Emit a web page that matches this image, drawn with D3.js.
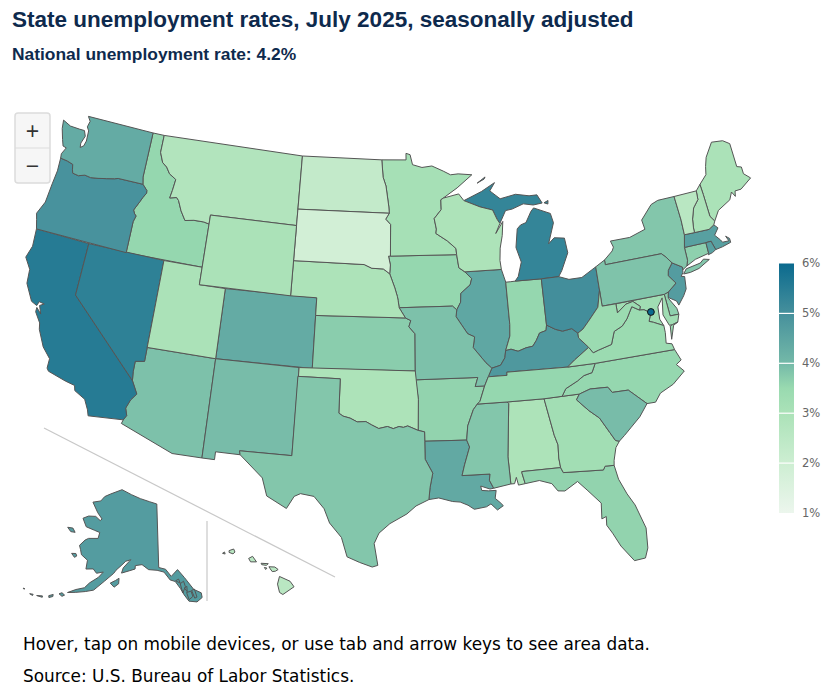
<!DOCTYPE html>
<html>
<head>
<meta charset="utf-8">
<script src="https://cdnjs.cloudflare.com/ajax/libs/d3/7.8.5/d3.min.js"></script>
<style>
  body { margin: 0; background: #fff; }
  svg { display: block; }
</style>
</head>
<body>
<div id="chart"></div>
<script>
const chartTitle = 'State unemployment rates, July 2025, seasonally adjusted';
const chartSubtitle = 'National unemployment rate: 4.2%';
const footNotes = ['Hover, tap on mobile devices, or use tab and arrow keys to see area data.', 'Source: U.S. Bureau of Labor Statistics.'];

const stateCodes = ['AK','AL','AR','AZ','CA','CO','CT','DE','FL','GA','HI','IA','ID','IL','IN','KS','KY','LA','MA','MD','ME','MI','MN','MO','MS','MT','NC','ND','NE','NH','NJ','NM','NV','NY','OH','OK','OR','PA','RI','SC','SD','TN','TX','UT','VA','VT','WA','WI','WV','WY'];
const stateRates = [4.7,2.95,3.6,3.88,5.55,4.35,3.65,3.65,3.6,3.25,2.6,3.55,3.55,4.45,3.55,3.7,4.8,4.4,4.6,3.3,3.0,5.3,3.15,3.88,3.8,2.8,3.55,2.3,2.95,3.0,4.7,3.95,5.4,3.8,5.05,2.95,4.95,3.85,4.6,3.95,1.85,3.55,3.8,3.0,3.45,2.6,4.35,2.95,3.45,3.0];
const dcRate = 6.0;
const dcLonLat = [-77.03, 38.9];

const legendValues = [1, 2, 3, 4, 5, 6];
const colorStops = [1, 2, 3, 3.5, 4, 5, 6];
const colorRange = ['#ecf6ed', '#cdeed2', '#abe2b8', '#99dab0', '#74b9a8', '#46909c', '#0b6a8e'];

// outlines are hand-read lon/lat, written as "degrees west, degrees north"
const pts = (s) => s.trim().split(/\s*,\s*/).map((p) => {
  const [w, n] = p.split(/\s+/).map(Number);
  return [-w, n];
});
const rev = (s) => pts(s).reverse();
const ring = (...parts) => parts.flatMap((p) => (typeof p === 'string' ? pts(p) : p));

// shared borders
const columbia = '124 46.25, 123.4 46.2, 122.9 46.1, 122.8 45.8, 122.7 45.62, 122.2 45.57, 121.7 45.7, 121.2 45.65, 120.6 45.72, 119.9 45.83, 119.3 45.93, 119 46, 116.92 46';
const snake = '116.92 46, 116.5 45.7, 116.47 45.55, 116.7 45.25, 116.85 45, 117.2 44.45, 117.05 44.25, 116.9 44.15, 117.03 43.8, 117.03 42';
const bitterroot = '116.05 49, 116.05 48, 115.7 47.45, 115.3 47.25, 114.95 46.9, 114.35 46.65, 114.45 46, 114.55 45.55, 114 45.65, 113.8 45.5, 113.45 44.95, 113 44.45, 112.3 44.55, 111.5 44.55, 111.05 44.48';
const coloradoRiver = '114.72 32.72, 114.55 33, 114.72 33.4, 114.5 33.9, 114.15 34.3, 114.63 35';
const redRiverND = '97.23 49, 97.1 48, 96.85 47.5, 96.6 46.3, 96.56 45.94';
const sdMn = '96.56 45.94, 96.85 45.6, 96.45 45.3, 96.45 43.5';
const bigSioux = '96.45 43.5, 96.6 43.5, 96.45 43, 96.5 42.5';
const niobrara = '96.5 42.5, 97 42.77, 97.9 42.8, 98.5 43';
const moNe = '96.5 42.5, 96.1 41.7, 95.9 41.2, 95.85 41, 95.77 40.58';
const neMoKs = '95.77 40.58, 95.3 40';
const ksMo = '95.3 40, 94.9 39.85, 95.05 39.5, 94.6 39.1, 94.62 37';
const redRiver = '94.48 33.64, 95.2 33.9, 95.5 33.82, 95.8 33.87, 96.2 33.75, 96.6 33.87, 97.2 33.75, 97.7 33.95, 98.1 34.13, 98.7 34.1, 99.2 34.3, 99.7 34.4, 100 34.56';
const sabine = '94.04 33.02, 94.04 32, 93.55 31.2, 93.75 30.4, 93.85 29.7';
const memphisUp = '89.7 36, 90.1 35.15, 90.3 35';
const missDelta = '90.3 35, 90.6 34.7, 91.05 33.8, 91.17 33';
const missLa = '91.17 33, 91 32.6, 91.4 31.6, 91.6 31';
const pearl = '89.73 31, 89.8 30.65, 89.55 30.18';
const iowaMiss = '91.22 43.5, 91.1 42.75, 90.65 42.5';
const ilIa = '90.65 42.5, 90.15 42.1, 90.3 41.75, 91.05 41.3, 91.1 40.8, 91.42 40.38';
const ilMo = '91.42 40.38, 91.5 40, 91.1 39.5, 90.7 39, 90.2 38.8, 90.35 38.2, 89.5 37.3, 89.1 36.97';
const mnWi = '92.1 46.75, 92.3 46.66, 92.3 46.1, 92.9 45.6, 92.75 45, 92.8 44.75, 91.9 44.3, 91.25 43.85, 91.22 43.5';
const wiMi = '90.4 46.55, 89.1 46.13, 88.1 45.9, 87.8 45.35, 87.6 45.1';
const ohioWest = '84.82 39.1, 84.9 38.8, 85.4 38.7, 85.7 38.3, 86 38, 86.5 37.95, 87.1 37.8, 87.6 37.95, 88 37.9';
const ohioIl = '88 37.9, 88.1 37.5, 88.45 37.1, 89.1 36.97';
const ohioOh = '82.6 38.42, 83 38.72, 83.7 38.65, 84.2 38.8, 84.82 39.1';
const ohioWv = '80.52 40.64, 80.85 39.7, 81.7 39, 82.2 38.6, 82.6 38.42';
const tugFork = '82.6 38.42, 82.6 38.15, 81.97 37.54';
const vaKy = '81.97 37.54, 83.1 36.95, 83.68 36.6';
const tnVaNc = '83.68 36.6, 81.68 36.59';
const tnNc = '81.68 36.59, 82 36.1, 82.6 36, 83.1 35.75, 84 35.4, 84.32 35';
const vaWv = '81.97 37.54, 81.7 37.2, 81.3 37.3, 80.3 37.5, 79.95 38.2, 79.3 38.42, 78.87 38.77, 78.35 39.4, 77.83 39.13';
const potomac = '77.83 39.13, 77.5 39.1, 77.05 38.85, 77.3 38.4, 77 38.3, 76.3 38';
const wvMd = '79.48 39.72, 79.48 39.2, 78.75 39.6, 78.2 39.68, 77.72 39.32, 77.83 39.13';
const savannah = '83.1 35, 83.35 34.7, 82.6 34, 81.95 33.5, 81.4 32.6, 81.1 32.1, 80.85 32.03';
const scNc = '83.1 35, 82.3 35.2, 81.05 35.15, 80.8 34.82, 79.67 34.8, 78.55 33.86';
const chattahoochee = '85.18 32.87, 85 32.3, 85.05 31.55, 85 31';
const flGa = '85 31, 84.86 30.7, 82.2 30.55, 82.05 30.75, 81.45 30.72';
const delaware = '75.35 42, 75.05 41.75, 74.7 41.36';
const delawareNj = '74.7 41.36, 75.1 41, 75.2 40.7, 74.75 40.2, 75.45 39.8';
const deMd = '75.79 39.72, 75.7 38.46, 75.05 38.45';
const ctNy = '73.5 42.05, 73.5 41.3, 73.65 41';
const nhVt = '71.5 45, 71.55 44.5, 72.05 44.1, 72.35 43.5, 72.45 43, 72.46 42.73';
const nhMe = '71.03 44.7, 70.97 43.4, 70.7 43.07';
const nyVt = '73.35 45, 73.25 43.6, 73.27 42.75';
const nyMa = '73.27 42.75, 73.5 42.05';
const maRi = '71.8 42.02, 71.38 42.02, 71.35 41.9, 71.2 41.5';
const riCt = '71.8 42.02, 71.8 41.4';

const stateShapes = {
  WA: [ring('122.76 49, 117.03 49, 117.04 46.4', rev(columbia), '124.05 46.5, 123.8 46.9, 124.1 46.95, 124.3 47.3, 124.6 47.9, 124.7 48.38, 124 48.17, 123.2 48.15, 122.75 48.15, 122.55 47.85, 122.75 47.4, 122.7 47.15, 122.45 47.3, 122.35 47.6, 122.4 48.2, 122.6 48.4, 122.5 48.75')],
  OR: [ring(columbia, snake, '124.2 42, 124.4 42.5, 124.55 42.85, 124.15 43.6, 124.05 44.7, 123.95 45.5')],
  ID: [ring('117.03 49, 116.05 49', bitterroot, '111.05 42, 117.03 42', rev(snake), '117.04 46.4')],
  MT: [ring('116.05 49, 104.05 49, 104.05 45, 111.05 45', rev(bitterroot))],
  WY: [ring('111.05 45, 104.05 45, 104.05 41, 111.05 41')],
  ND: [ring('104.05 49', redRiverND, '104.05 45.94')],
  SD: [ring('104.05 45.94', sdMn, bigSioux, niobrara, '104.05 43')],
  NE: [ring('104.05 43', rev(niobrara), moNe, neMoKs, '102.05 40, 102.05 41, 104.05 41')],
  KS: [ring('102.05 40', ksMo, '102.05 37')],
  CO: [ring('109.05 41, 102.05 41, 102.05 37, 109.05 37')],
  UT: [ring('114.05 42, 111.05 42, 111.05 41, 109.05 41, 109.05 37, 114.05 37')],
  NV: [ring('120 42, 114.05 42, 114.05 36.2, 114.7 36.1, 114.7 35.5, 114.63 35, 120 39')],
  CA: [ring('124.2 42, 120 42, 120 39', rev(coloradoRiver), '117.12 32.53, 117.25 32.85, 117.6 33.4, 118.4 33.75, 118.5 34.03, 119.2 34.15, 120.5 34.45, 120.65 34.6, 120.65 35.15, 121.3 35.7, 121.9 36.6, 122 36.95, 122.5 37.5, 122.5 37.75, 122.1 37.45, 122.35 37.9, 122.05 38.05, 122.45 38.1, 122.55 37.85, 123 38, 123.7 38.9, 123.8 39.7, 124.35 40.3, 124.1 41')],
  AZ: [ring('114.05 37, 109.05 37, 109.05 31.33, 111.07 31.33, 114.8 32.5', coloradoRiver, '114.7 35.5, 114.7 36.1, 114.05 36.2')],
  NM: [ring('109.05 37, 103 37, 103.05 32, 106.6 32, 106.53 31.78, 108.2 31.78, 108.2 31.33, 109.05 31.33')],
  OK: [ring('103 37, 94.62 37, 94.43 35.4', redRiver, '100 36.5, 103 36.5')],
  TX: [ring('103.04 36.5, 100 36.5', rev(redRiver), '94.04 33.55', sabine, '94.7 29.35, 95.3 28.9, 96.4 28.35, 97.1 27.8, 97.4 27.2, 97.15 25.95, 97.5 25.85, 98.3 26.1, 99.1 26.4, 99.5 27.5, 100.3 28.3, 100.7 29.1, 101.4 29.77, 102.3 29.88, 102.7 29.7, 103.15 28.98, 104.5 29.6, 104.9 30.6, 106.53 31.78, 106.6 32, 103.05 32')],
  LA: [ring('94.04 33.02', missLa, pearl, '89.8 30.15, 90.4 30.35, 90.35 30.1, 89.9 30.05, 89.4 30.05, 89.5 29.6, 89.2 29.35, 89 29.15, 89.4 28.93, 89.8 29.3, 90.1 29.15, 90.9 29.05, 91.3 29.3, 91.8 29.5, 92.3 29.55, 93.2 29.78', rev(sabine))],
  AR: [ring('94.62 36.5, 90.15 36.5, 90.37 36', memphisUp, missDelta, '94.04 33.02, 94.04 33.55, 94.48 33.64, 94.43 35.4')],
  MO: [ring(neMoKs, ksMo, '94.62 36.5, 90.15 36.5, 90.37 36, 89.7 36, 89.4 36.5', rev(ilMo), '91.73 40.6')],
  IA: [ring('96.45 43.5', iowaMiss, ilIa, '91.73 40.6', rev(moNe), rev(bigSioux))],
  MN: [ring('97.23 49, 95.15 49, 95.15 49.38, 94.8 49.3, 94.6 48.72, 93.8 48.55, 92.95 48.62, 92 48.3, 91.4 48.07, 90.75 48.1, 89.6 48, 90.9 47.3', mnWi, rev(sdMn), rev(redRiverND))],
  WI: [ring('92.1 46.75, 90.8 46.95', wiMi, '88 44.55, 87.35 45.2, 87.5 44.4, 87.75 43.7, 87.85 43, 87.8 42.49', rev(iowaMiss), rev(mnWi))],
  IL: [ring('90.65 42.5, 87.8 42.49, 87.55 41.75, 87.53 39.35, 87.6 38.7', ohioIl, rev(ilMo), rev(ilIa))],
  IN: [ring('87.55 41.75, 87.2 41.75, 86.82 41.76, 84.8 41.73', ohioWest, '87.6 38.7, 87.53 39.35')],
  OH: [ring('84.8 41.73, 83.45 41.73, 82.7 41.5, 81.7 41.5, 80.52 41.97', ohioWv, ohioOh)],
  KY: [ring(ohioOh, ohioWest, ohioIl, '89.4 36.5, 88.05 36.5, 88.05 36.68', rev(vaKy), rev(tugFork))],
  TN: [ring('89.4 36.5, 88.05 36.5, 88.05 36.68', tnVaNc, tnNc, '85.6 34.98, 88.2 35, 90.3 35', rev(memphisUp))],
  MS: [ring('90.3 35, 88.2 35, 88.1 34.9, 88.45 31.9, 88.4 30.35', rev(pearl), rev(missLa), rev(missDelta))],
  AL: [ring('88.2 35, 85.6 34.98', chattahoochee, '87.6 31, 87.6 30.9, 87.45 30.3, 87.9 30.25, 88 30.7, 88.15 30.35, 88.4 30.35, 88.45 31.9, 88.1 34.9')],
  GA: [ring('85.6 34.98, 84.32 35', savannah, '81.15 31.7, 81.4 31', rev(flGa), rev(chattahoochee))],
  FL: [ring('87.6 31', flGa, '81.3 29.9, 80.9 29, 80.5 28.3, 80.05 26.9, 80.15 25.75, 80.4 25.2, 81.1 25.15, 81.8 26.1, 82.2 26.9, 82.5 27.4, 82.45 27.9, 82.75 27.8, 82.65 28.7, 83.4 29.5, 84 30.1, 84.9 29.65, 85.35 29.7, 85.7 30.15, 86.5 30.4, 87.45 30.3, 87.6 30.9')],
  SC: [ring(scNc, '79.2 33.2, 79.9 32.7, 80.45 32.3', rev(savannah))],
  NC: [ring('81.68 36.59, 75.9 36.55, 75.6 35.9, 76 35.7, 75.55 35.25, 76.5 34.65, 77.5 34.3, 77.95 33.85', rev(scNc), '84.32 35, 84 35.4, 83.1 35.75, 82.6 36, 82 36.1')],
  VA: [ring(tnVaNc, '75.9 36.55, 76 36.9, 76.4 37, 76.3 37.6', rev(potomac), rev(vaWv), vaKy), ring('75.95 37.15, 75.6 37.9, 75.25 38.03, 75.65 37.95, 75.85 37.9')],
  WV: [ring(ohioWv, tugFork, vaWv, rev(wvMd), '80.52 39.72')],
  MD: [ring('79.48 39.72, 75.79 39.72', deMd, '75.25 38.03, 75.65 37.95, 75.9 37.95, 76.2 38.6, 76 39.55, 76.45 39.1, 76.5 38.4', rev(potomac), rev(wvMd))],
  DE: [ring('75.79 39.72, 75.45 39.8, 75.55 39.45, 75.1 38.8, 75.05 38.45, 75.7 38.46')],
  PA: [ring('80.52 41.97, 79.76 42.27, 79.76 42', delaware, delawareNj, '75.79 39.72, 80.52 39.72')],
  NJ: [ring(delawareNj, '75.55 39.5, 75 39.2, 74.9 38.95, 74.4 39.4, 74.1 39.75, 74 40.45, 74.25 40.5, 74.05 40.7, 74 41')],
  NY: [ring('79.76 42.27, 79.05 42.7, 78.9 42.9, 79.05 43.27, 77.5 43.27, 76.2 43.55, 76.3 44.1, 75.3 44.85, 74.7 45', nyVt, nyMa, ctNy, '74 40.85, 74 41', rev(delaware), '79.76 42'), ring('74.03 40.6, 73.75 40.85, 72.6 40.98, 72.3 41.15, 71.87 41.05, 72.8 40.7, 73.5 40.6')],
  CT: [ring(ctNy.split(',')[0], riCt, '72.9 41.25, 73.65 41, 73.5 41.3')],
  RI: [ring(maRi, '71.5 41.38, 71.85 41.32, 71.8 41.4')],
  MA: [ring('73.27 42.75, 72.46 42.73, 71.3 42.7, 70.85 42.88, 70.6 42.65, 71 42.3, 70.65 41.95, 70.55 41.8, 70.05 41.78, 70.2 42.08, 69.95 41.9, 69.95 41.67, 70.65 41.55, 71.2 41.5', rev(maRi), '73.5 42.05')],
  VT: [ring(nyVt, rev(nhVt))],
  NH: [ring(nhVt, '71.3 42.7, 70.85 42.88, 70.7 43.07', rev(nhMe), '71.08 45.3')],
  ME: [ring('71.08 45.3, 70.4 45.75, 70.25 46.2, 70 46.7, 69.23 47.45, 68.3 47.35, 67.8 47.07, 67.8 45.7, 67.45 45.6, 67.45 45.2, 67 44.85, 68 44.4, 68.5 44.4, 68.6 44.1, 68.8 44.4, 69.1 44, 70.2 43.6', rev(nhMe))],
  MI: [ring('86.82 41.76, 84.8 41.73, 83.45 41.73, 83.15 42.05, 82.5 43, 82.6 43.85, 83.4 43.95, 83.9 43.65, 83.3 44.8, 83.45 45.35, 84.75 45.78, 85 45.6, 85.5 45, 85.95 44.9, 86.25 44.7, 86.5 43.65, 86.2 42.8, 86.55 42'),
    ring(wiMi, '87.05 45.8, 86.5 45.85, 85.55 46.08, 84.75 45.95, 84 46, 84.35 46.5, 85 46.5, 86.1 46.67, 87.4 46.5, 88.2 47, 87.75 47.45, 88.9 47'),
    ring('89.2 47.5, 88.5 47.82, 88.6 47.7'), ring('83.85 46, 83.5 46.1, 83.55 45.9')],
  AK: [ring('141 69.65, 141 60.3, 139 60, 137.5 58.9, 135.5 59.8, 133.8 58.5, 131.8 56.6, 130 55.9, 130 55.2, 131.5 54.7, 133.5 55, 134.5 56, 135.3 57, 136.5 58.1, 137.9 58.4, 139.5 59.6, 141.5 59.9, 144 60, 146 60.7, 148 60.5, 148 60, 149.5 59.7, 151.8 59.2, 151.5 60, 150 61, 149.5 61.3, 151 61, 152 60.4, 153.5 59.5, 154 59, 156.2 57.6, 158.5 56, 160.5 55.5, 162.8 55, 164.8 54.6, 163 55.4, 161 56, 160 56.9, 158 58, 157 58.9, 158.8 58.5, 160 59, 162 58.7, 162.3 60, 164.5 60.5, 165.3 61.2, 166 61.7, 164.9 62.7, 164 63.1, 161 63.5, 161 64.4, 163 64.5, 166 64.6, 168.1 65.6, 166.5 66.2, 164 66.5, 162 66.1, 161.5 66.4, 163.7 67.1, 166.8 68.35, 164 68.9, 163 69.7, 161 70.3, 156.5 71.35, 152 70.85, 148 70.4, 144 70'),
    ring('154.5 57.5, 153.2 58, 152.3 58.4, 152.2 57.6, 153.3 57'), ring('167.4 60.2, 166.2 60.4, 165.7 60.1, 166.2 59.8'), ring('171.7 63.5, 170 63.7, 168.8 63.25, 170.2 63.1'),
    ring('166.7 54, 166.1 54.3, 165.3 54.1, 165.8 53.8'), ring('168.9 53.2, 168 53.6, 167.9 53.3, 168.7 52.95'), ring('171.6 52.5, 170.3 52.8, 170.2 52.6'), ring('173.3 52.3, 172.5 52.45, 172.5 52.25'), ring('175.3 52.6, 174.9 52.65, 175 52.5'),
    ring('135.2 57.7, 134.2 58, 133.9 57.2, 134.8 56.3'), ring('133.8 56.3, 132.6 56.4, 132.3 55.6, 133.4 55.2'), ring('136.4 58.2, 135.5 58.4, 135.2 57.8'), ring('134.2 57, 133.5 57.2, 133.6 56.4'), ring('132.4 56.5, 131.6 56.6, 131.3 55.4, 131.9 55.3')],
  HI: [ring('155.9 20.25, 155.1 19.9, 154.8 19.5, 155.65 18.95, 155.9 19.1, 156.05 19.7'), ring('156.7 20.95, 156.25 20.93, 156 20.75, 156.2 20.63, 156.45 20.6, 156.6 20.8'), ring('157.3 21.2, 156.75 21.17, 156.9 21.05, 157.25 21.1'), ring('157.05 20.9, 156.85 20.85, 156.95 20.75'), ring('158.25 21.55, 157.95 21.7, 157.65 21.3, 158.1 21.3'), ring('159.75 22.1, 159.4 22.22, 159.3 22, 159.45 21.87, 159.75 21.97'), ring('160.25 21.9, 160.1 22, 160.05 21.85')],
};

const width = 830;
const height = 697;

const svg = d3.select('#chart').append('svg').attr('width', width).attr('height', height);

svg.append('text').attr('x', 12).attr('y', 27)
  .attr('font-family', 'Liberation Sans').attr('font-weight', 'bold').attr('font-size', 22.5)
  .attr('fill', '#0e2a4d').text(chartTitle);
svg.append('text').attr('x', 12).attr('y', 60)
  .attr('font-family', 'Liberation Sans').attr('font-weight', 'bold').attr('font-size', 17.4)
  .attr('fill', '#0e2a4d').text(chartSubtitle);

const color = d3.scaleLinear().domain(colorStops).range(colorRange);

const mainland = d3.geoAlbers().scale(1005).translate([388, 341]);
const alaska = d3.geoConicEqualArea().rotate([143, 0]).parallels([55, 65]).center([0, 62]).scale(390).translate([152, 556]);
const hawaii = d3.geoConicEqualArea().rotate([157, 0]).parallels([8, 18]).center([0, 20.5]).scale(800).translate([265, 573]);

const pathFor = (code) => d3.geoPath(code === 'AK' ? alaska : code === 'HI' ? hawaii : mainland);

// d3 wants clockwise rings, fix any that came out the other way round
const polygon = (r) => {
  const g = { type: 'Polygon', coordinates: [[...r, r[0]]] };
  if (d3.geoArea(g) > 2 * Math.PI) g.coordinates[0].reverse();
  return g.coordinates;
};

const states = stateCodes.map((code, i) => ({
  code,
  rate: stateRates[i],
  geo: { type: 'MultiPolygon', coordinates: stateShapes[code].map(polygon) },
}));

// inset separators
svg.append('g').attr('stroke', '#c8c8c8').attr('stroke-width', 1.2)
  .selectAll('line').data([[44, 428, 335, 577], [207, 521, 207, 601]]).join('line')
  .attr('x1', (d) => d[0]).attr('y1', (d) => d[1]).attr('x2', (d) => d[2]).attr('y2', (d) => d[3]);

svg.append('g')
  .attr('stroke', '#555').attr('stroke-width', 1).attr('stroke-linejoin', 'round')
  .selectAll('path').data(states).join('path')
  .attr('fill', (d) => color(d.rate))
  .attr('d', (d) => pathFor(d.code)(d.geo));

const [dcX, dcY] = mainland(dcLonLat);
svg.append('circle').attr('cx', dcX).attr('cy', dcY).attr('r', 3.4)
  .attr('fill', color(dcRate)).attr('stroke', '#111').attr('stroke-width', 1);

// colour legend
const legendY = d3.scaleLinear().domain([1, 6]).range([513, 263.5]);
const defs = svg.append('defs');
const grad = defs.append('linearGradient').attr('id', 'legend-grad').attr('x1', 0).attr('x2', 0).attr('y1', 1).attr('y2', 0);
grad.selectAll('stop').data(colorStops).join('stop')
  .attr('offset', (d) => (d - 1) / 5).attr('stop-color', (d) => color(d));
svg.append('rect').attr('x', 779).attr('y', legendY(6)).attr('width', 15).attr('height', legendY(1) - legendY(6)).attr('fill', 'url(#legend-grad)');
svg.append('g').attr('stroke', '#fff').attr('stroke-width', 1.2)
  .selectAll('line').data(legendValues.slice(1, 5)).join('line')
  .attr('x1', 779).attr('x2', 794).attr('y1', (d) => legendY(d)).attr('y2', (d) => legendY(d));
const legendAxis = svg.append('g').attr('transform', 'translate(794,-0.5)')
  .call(d3.axisRight(legendY).tickValues(legendValues).tickSize(0).tickPadding(8).tickFormat((d) => d + '%'));
legendAxis.select('.domain').remove();
legendAxis.selectAll('text').attr('font-family', 'DejaVu Sans').attr('font-size', 11.5).attr('fill', '#666');

// zoom buttons
const zoomBox = svg.append('g').attr('transform', 'translate(15,113)');
zoomBox.append('rect').attr('x', 0).attr('y', 0).attr('width', 35).attr('height', 70).attr('rx', 3)
  .attr('fill', '#f6f6f6').attr('stroke', '#dcdcdc').attr('stroke-width', 1.5);
zoomBox.append('line').attr('x1', 0).attr('x2', 35).attr('y1', 35).attr('y2', 35).attr('stroke', '#dcdcdc');
zoomBox.selectAll('text').data(['+', '\u2212']).join('text')
  .attr('x', 17.5).attr('y', (d, i) => 26 + i * 35).attr('text-anchor', 'middle')
  .attr('font-family', 'Liberation Sans').attr('font-size', 23).attr('fill', '#333').text((d) => d);

svg.selectAll('.note').data(footNotes).join('text').attr('class', 'note')
  .attr('x', 23).attr('y', (d, i) => 650 + i * 32)
  .attr('font-family', 'DejaVu Sans').attr('font-size', 16.9).attr('fill', '#000').text((d) => d);
</script>
</body>
</html>
